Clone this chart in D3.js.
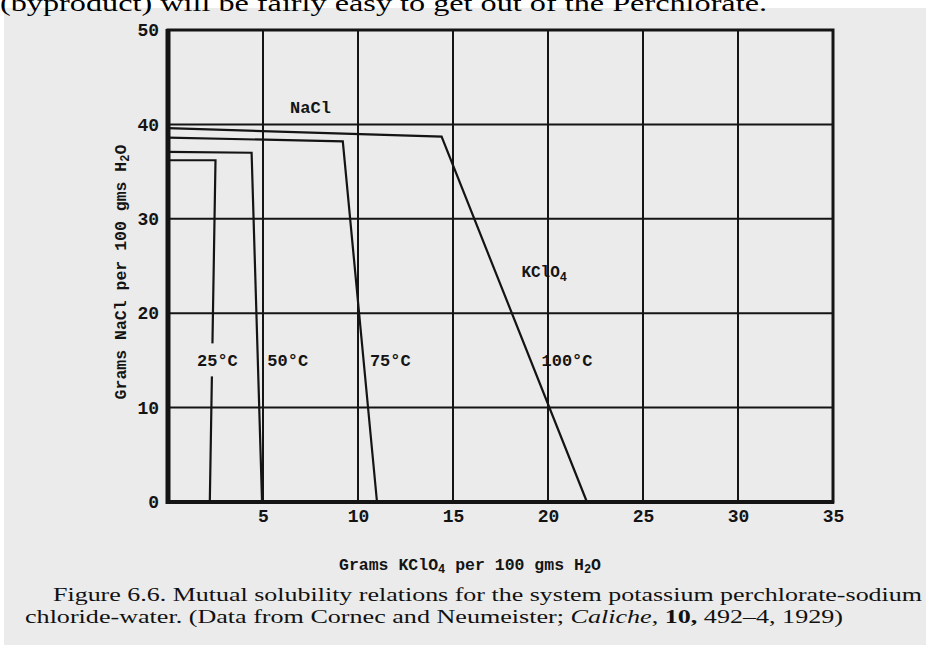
<!DOCTYPE html>
<html>
<head>
<meta charset="utf-8">
<script src="https://cdn.jsdelivr.net/npm/d3@7"></script>
<style>
  body { margin: 0; background: #fff; }
  svg { display: block; }
</style>
</head>
<body>
<div id="chart"></div>
<script>
// axis ticks
const xTicks = [5, 10, 15, 20, 25, 30, 35];
const yTicks = [0, 10, 20, 30, 40, 50];

// isotherms: [grams KClO4, grams NaCl] per 100 g water
const curve25 = [[0, 36.2], [2.5, 36.2], [2.2, 0]];
const curve50 = [[0, 37.1], [4.4, 37.0], [4.95, 0]];
const curve75 = [[0, 38.6], [9.2, 38.2], [11.0, 0]];
const curve100 = [[0, 39.6], [14.4, 38.7], [22.05, 0]];
const curves = [curve25, curve50, curve75, curve100];

// temperature labels and where they sit
const tempNames = ["25°C", "50°C", "75°C", "100°C"];
const tempX = [2.6, 6.3, 11.7, 21.0];
const tempY = 15.0;

const width = 926;
const height = 645;
const ink = "#141414";
const paper = "#ebebeb";
const mono = "'Liberation Mono', 'DejaVu Sans Mono', monospace";
const serif = "'Liberation Serif', 'DejaVu Serif', serif";

const svg = d3.select("#chart")
    .append("svg")
    .attr("width", width)
    .attr("height", height);

// scanned page background
svg.append("rect")
    .attr("x", 4).attr("y", 8)
    .attr("width", width - 4).attr("height", height - 8)
    .attr("fill", paper);

// cut-off line of body text at the top
svg.append("text")
    .attr("x", 0).attr("y", 11)
    .attr("font-family", serif)
    .attr("font-size", 24)
    .attr("fill", "#000")
    .attr("textLength", 767)
    .attr("lengthAdjust", "spacingAndGlyphs")
    .text("(byproduct) will be fairly easy to get out of the Perchlorate.");

const x = d3.scaleLinear().domain([0, 35]).range([168, 833]);
const y = d3.scaleLinear().domain([0, 50]).range([502, 30]);

// grid
svg.append("g")
    .selectAll("line")
    .data(xTicks.filter(d => d < 35))
    .enter()
    .append("line")
    .attr("x1", d => x(d)).attr("x2", d => x(d))
    .attr("y1", y(50)).attr("y2", y(0))
    .attr("stroke", ink).attr("stroke-width", 2);

svg.append("g")
    .selectAll("line")
    .data(yTicks.filter(d => d > 0 && d < 50))
    .enter()
    .append("line")
    .attr("x1", x(0)).attr("x2", x(35))
    .attr("y1", d => y(d)).attr("y2", d => y(d))
    .attr("stroke", ink).attr("stroke-width", 2);

// frame
svg.append("rect")
    .attr("x", x(0)).attr("y", y(50))
    .attr("width", x(35) - x(0)).attr("height", y(0) - y(50))
    .attr("fill", "none")
    .attr("stroke", ink).attr("stroke-width", 3);
svg.append("line")
    .attr("x1", x(0)).attr("x2", x(0))
    .attr("y1", y(50) - 1).attr("y2", y(0) + 2)
    .attr("stroke", ink).attr("stroke-width", 5);
svg.append("line")
    .attr("x1", x(0)).attr("x2", x(35) + 1)
    .attr("y1", y(0)).attr("y2", y(0))
    .attr("stroke", ink).attr("stroke-width", 4);

// axes (text only)
const xAxis = svg.append("g")
    .attr("transform", "translate(0," + y(0) + ")")
    .call(d3.axisBottom(x).tickValues(xTicks).tickSize(0).tickPadding(9));
xAxis.select(".domain").remove();

const yAxis = svg.append("g")
    .attr("transform", "translate(" + x(0) + ",0)")
    .call(d3.axisLeft(y).tickValues(yTicks).tickSize(0).tickPadding(9));
yAxis.select(".domain").remove();

svg.selectAll(".tick text")
    .attr("font-family", mono)
    .attr("font-size", 18)
    .attr("font-weight", "bold")
    .attr("fill", ink);
xAxis.selectAll(".tick text").attr("dy", "0.6em");

// isotherm lines
const line = d3.line().x(d => x(d[0])).y(d => y(d[1]));
svg.append("g")
    .selectAll("path")
    .data(curves)
    .enter()
    .append("path")
    .attr("d", line)
    .attr("fill", "none")
    .attr("stroke", ink)
    .attr("stroke-width", 2.2)
    .attr("stroke-linejoin", "miter");

// gap in the 25°C line where its label sits
svg.append("rect")
    .attr("x", x(tempX[0]) - 22).attr("y", y(tempY) - 17)
    .attr("width", 44).attr("height", 33)
    .attr("fill", paper);

svg.append("g")
    .selectAll("text")
    .data(tempNames)
    .enter()
    .append("text")
    .attr("x", (d, i) => x(tempX[i]))
    .attr("y", y(tempY))
    .attr("dy", "0.35em")
    .attr("text-anchor", "middle")
    .attr("font-family", mono)
    .attr("font-size", 17)
    .attr("font-weight", "bold")
    .attr("fill", ink)
    .text(d => d);

// phase labels
svg.append("text")
    .attr("x", x(7.5)).attr("y", y(41.8))
    .attr("dy", "0.35em")
    .attr("text-anchor", "middle")
    .attr("font-family", mono).attr("font-size", 17).attr("font-weight", "bold")
    .attr("fill", ink)
    .text("NaCl");

const kclo4 = svg.append("text")
    .attr("x", x(19.8)).attr("y", y(24.4))
    .attr("dy", "0.35em")
    .attr("text-anchor", "middle")
    .attr("font-family", mono).attr("font-size", 16).attr("font-weight", "bold")
    .attr("fill", ink);
kclo4.append("tspan").text("KClO");
kclo4.append("tspan").attr("font-size", 12).attr("dy", 4).text("4");

// axis titles
const xTitle = svg.append("text")
    .attr("x", 470).attr("y", 570)
    .attr("text-anchor", "middle")
    .attr("font-family", mono).attr("font-size", 16.5).attr("font-weight", "bold")
    .attr("fill", ink);
xTitle.append("tspan").text("Grams KClO");
xTitle.append("tspan").attr("font-size", 12).attr("dy", 3).text("4");
xTitle.append("tspan").attr("dy", -3).text(" per 100 gms H");
xTitle.append("tspan").attr("font-size", 12).attr("dy", 3).text("2");
xTitle.append("tspan").attr("dy", -3).text("O");

const yTitle = svg.append("text")
    .attr("transform", "translate(126,272) rotate(-90)")
    .attr("text-anchor", "middle")
    .attr("font-family", mono).attr("font-size", 16.5).attr("font-weight", "bold")
    .attr("fill", ink);
yTitle.append("tspan").text("Grams NaCl per 100 gms H");
yTitle.append("tspan").attr("font-size", 12).attr("dy", 3).text("2");
yTitle.append("tspan").attr("dy", -3).text("O");

// figure caption
svg.append("text")
    .attr("x", 53).attr("y", 601)
    .attr("font-family", serif).attr("font-size", 19)
    .attr("fill", "#111")
    .attr("textLength", 869)
    .attr("lengthAdjust", "spacingAndGlyphs")
    .text("Figure 6.6. Mutual solubility relations for the system potassium perchlorate-sodium");

const cap2 = svg.append("text")
    .attr("x", 25).attr("y", 623)
    .attr("font-family", serif).attr("font-size", 19)
    .attr("fill", "#111")
    .attr("textLength", 818)
    .attr("lengthAdjust", "spacingAndGlyphs");
cap2.append("tspan").text("chloride-water. (Data from Cornec and Neumeister; ");
cap2.append("tspan").attr("font-style", "italic").text("Caliche");
cap2.append("tspan").text(", ");
cap2.append("tspan").attr("font-weight", "bold").text("10,");
cap2.append("tspan").text(" 492–4, 1929)");
</script>
</body>
</html>
